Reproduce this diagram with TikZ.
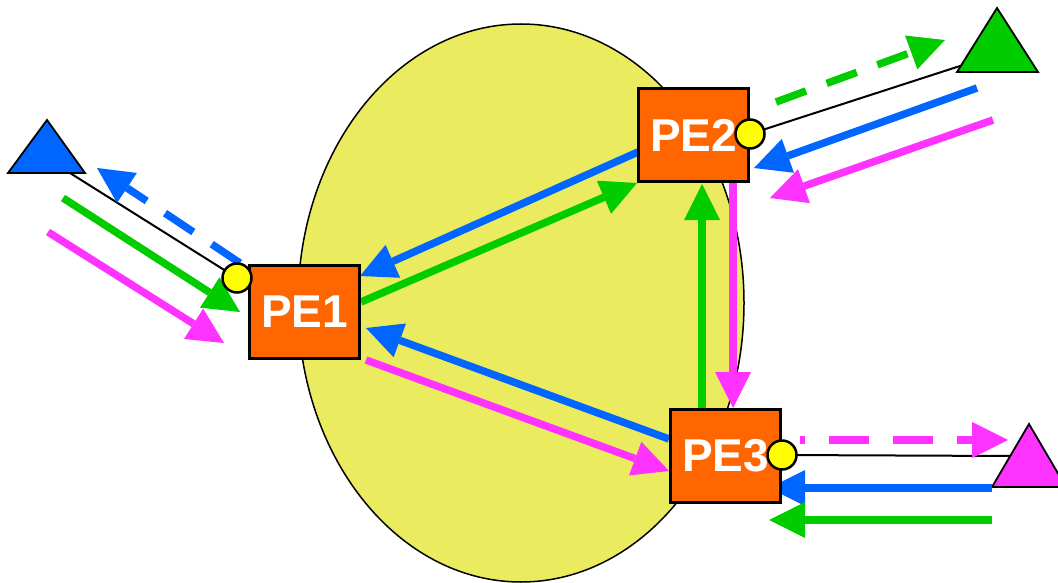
\documentclass[tikz,border=0pt]{standalone}
\usepackage{fontspec}
\setmainfont{Liberation Sans}
\usetikzlibrary{arrows.meta}
\definecolor{ellfill}{HTML}{EBEB5F}
\definecolor{peorange}{HTML}{FF6600}
\definecolor{portyellow}{HTML}{FFFF00}
\definecolor{fblue}{HTML}{0066FF}
\definecolor{fgreen}{HTML}{00CC00}
\definecolor{fmag}{HTML}{FF33FF}
\begin{document}
\begin{tikzpicture}[x=1pt,y=-1pt,
  pebox/.style={draw=black, line width=3pt, fill=peorange, minimum width=110pt, minimum height=93pt, inner sep=0pt, text=white, font=\fontsize{46}{46}\selectfont\bfseries},
  port/.style={circle, draw=black, line width=2.5pt, fill=portyellow, minimum size=29pt, inner sep=0pt},
  flow/.style={line width=7.5pt, -{Triangle[length=36pt,width=36pt,line width=0pt]}},
  dashflow/.style={flow, dash pattern=on 34pt off 22pt},
  link/.style={draw=black, line width=2pt},
  tri/.style={draw=black, line width=1.8pt, line join=miter}]
\useasboundingbox (0,0) rectangle (1058,583);
% cloud
\draw[fill=ellfill, line width=1.5pt] (521,303) ellipse [x radius=223, y radius=279];
% named positions
\coordinate (c1p) at (237,278);
\coordinate (c2p) at (750,134);
\coordinate (c3p) at (782,455);
\coordinate (t1) at (70,173);
\coordinate (t2) at (960,66);
\coordinate (t3) at (1010,456);
% links
\draw[link] (c1p) -- (t1);
\draw[link] (c2p) -- (t2);
\draw[link] (c3p) -- (t3);
% CE triangles
\draw[tri, fill=fblue] (47,120) -- (8,173) -- (85,173) -- cycle;
\draw[tri, fill=fgreen] (997,8) -- (957,72) -- (1038,72) -- cycle;
\draw[tri, fill=fmag] (1029,424) -- (992,487) -- (1066,487) -- cycle;
% flow coordinates
\coordinate (b1s) at (240,263); \coordinate (b1e) at (97,168);
\coordinate (g1s) at (63,198);  \coordinate (g1e) at (240,312);
\coordinate (m1s) at (48,232);  \coordinate (m1e) at (224,343);
\coordinate (g2s) at (776,102); \coordinate (g2e) at (945,40);
\coordinate (b2s) at (977,88);  \coordinate (b2e) at (754,168);
\coordinate (m2s) at (993,120); \coordinate (m2e) at (770,198);
\coordinate (m3s) at (800,440); \coordinate (m3e) at (1008,440);
\coordinate (b3s) at (992,488); \coordinate (b3e) at (769,488);
\coordinate (g3s) at (992,520); \coordinate (g3e) at (769,520);
\coordinate (i1s) at (638,152); \coordinate (i1e) at (360,276);
\coordinate (i2s) at (361,302); \coordinate (i2e) at (637,183);
\coordinate (i3s) at (669,439); \coordinate (i3e) at (366,328);
\coordinate (i4s) at (366,360); \coordinate (i4e) at (669,471);
\coordinate (i5s) at (702,408); \coordinate (i5e) at (702,184);
\coordinate (i6s) at (733,183); \coordinate (i6e) at (733,408);
% external flows
\draw[dashflow, fblue] (b1s) -- (b1e);
\draw[flow, fgreen] (g1s) -- (g1e);
\draw[flow, fmag] (m1s) -- (m1e);
\draw[dashflow, fgreen, dash pattern=on 32pt off 22pt] (g2s) -- (g2e);
\draw[flow, fblue] (b2s) -- (b2e);
\draw[flow, fmag] (m2s) -- (m2e);
\draw[dashflow, fmag, dash pattern=on 40pt off 24pt, dash phase=35pt] (m3s) -- (m3e);
\draw[flow, fblue] (b3s) -- (b3e);
\draw[flow, fgreen] (g3s) -- (g3e);
% internal flows
\draw[flow, fblue] (i1s) -- (i1e);
\draw[flow, fgreen] (i2s) -- (i2e);
\draw[flow, fblue] (i3s) -- (i3e);
\draw[flow, fmag] (i4s) -- (i4e);
\draw[flow, fgreen] (i5s) -- (i5e);
\draw[flow, fmag] (i6s) -- (i6e);
% PE routers
\node[pebox] (pe1) at (304.5,312) {PE1};
\node[pebox] (pe2) at (693.5,135.5) {PE2};
\node[pebox] (pe3) at (725.5,456) {PE3};
% ports
\node[port] (c1) at (c1p) {};
\node[port] (c2) at (c2p) {};
\node[port] (c3) at (c3p) {};
\end{tikzpicture}
\end{document}
